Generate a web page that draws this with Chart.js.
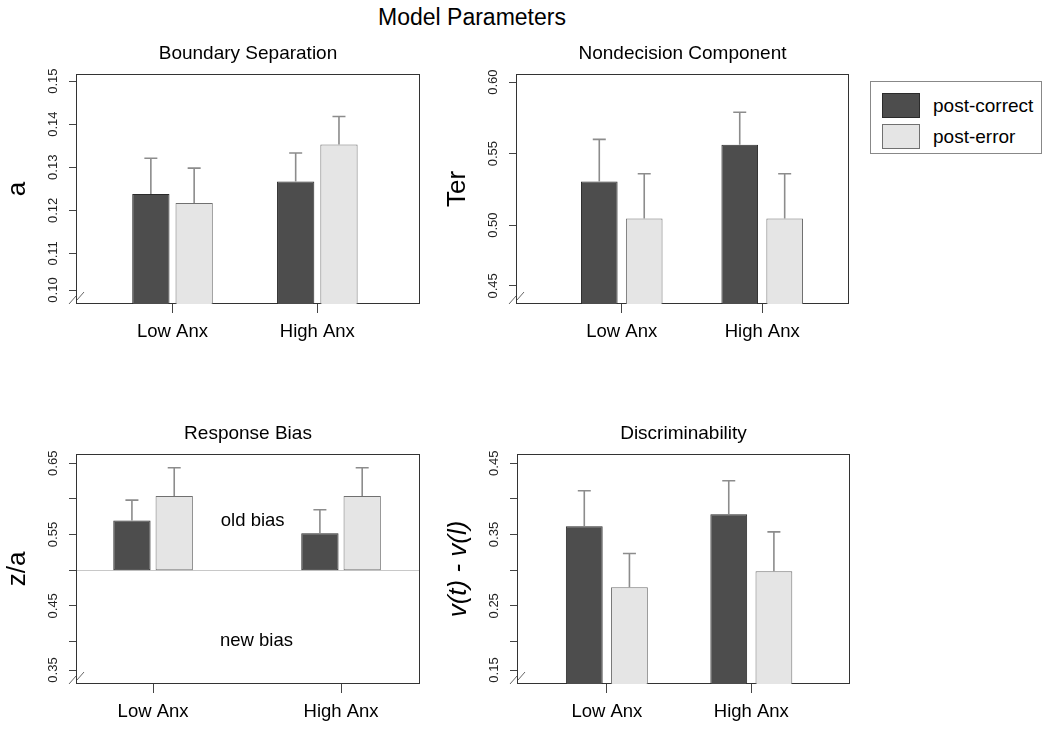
<!DOCTYPE html>
<html>
<head>
<meta charset="utf-8">
<script src="https://cdn.jsdelivr.net/npm/chart.js@4.4.0/dist/chart.umd.min.js"></script>
<style>
  body { margin: 0; background: #fff; width: 1050px; height: 743px; position: relative; overflow: hidden;
         font-family: 'Liberation Sans', Arial, sans-serif; color: #000; }
  canvas { position: absolute; }
  #mainTitle { position: absolute; left: 0; top: 4px; width: 944px; text-align: center; font-size: 23px; line-height: 26px; }
  #legend { position: absolute; left: 870px; top: 81px; width: 170px; height: 71px; border: 1px solid #888; }
  .row { position: absolute; left: 11px; height: 25px; }
  .swatch { position: absolute; left: 0; top: 0; width: 36px; height: 23px; }
  .row span { position: absolute; left: 51px; top: 0; line-height: 25px; font-size: 19px; white-space: nowrap; }
</style>
</head>
<body>
<div id="mainTitle">Model Parameters</div>
<canvas id="sep" width="430" height="320" style="left:0px;top:36px"></canvas>
<canvas id="ter" width="420" height="320" style="left:440px;top:36px"></canvas>
<canvas id="bias" width="430" height="320" style="left:0px;top:416px"></canvas>
<canvas id="disc" width="419" height="320" style="left:441px;top:416px"></canvas>
<div id="legend"></div>
<script>
// groups and series
const groups = ['Low Anx', 'High Anx'];
const seriesNames = ['post-correct', 'post-error'];
const barColors = ['#4d4d4d', '#e5e5e5'];
const borderColors = ['#2b2b2b', '#707070'];

// boundary separation (a)
const sepCorrect = [0.1238, 0.1267];
const sepError = [0.1217, 0.1353];
const sepCorrectTop = [0.1321, 0.1333];
const sepErrorTop = [0.1298, 0.1418];
const sepTicks = [0.1015, 0.11, 0.12, 0.13, 0.14, 0.15];
const sepTickLabels = ['0.10', '0.11', '0.12', '0.13', '0.14', '0.15'];

// nondecision component (Ter)
const terCorrect = [0.5305, 0.5563];
const terError = [0.5047, 0.5047];
const terCorrectTop = [0.560, 0.579];
const terErrorTop = [0.536, 0.536];
const terTicks = [0.4576, 0.50, 0.55, 0.60];
const terTickLabels = ['0.45', '0.50', '0.55', '0.60'];

// response bias (z/a), bars start at 0.5
const biasBase = 0.5;
const biasCorrect = [0.5697, 0.5518];
const biasError = [0.604, 0.604];
const biasCorrectTop = [0.5983, 0.5847];
const biasErrorTop = [0.6438, 0.6438];
const biasTicks = [0.3599, 0.40, 0.45, 0.50, 0.55, 0.60, 0.65];
const biasTickLabels = ['0.35', '', '0.45', '', '0.55', '', '0.65'];

// discriminability
const discCorrect = [0.3617, 0.3786];
const discError = [0.2759, 0.2986];
const discCorrectTop = [0.4114, 0.4254];
const discErrorTop = [0.3235, 0.3537];
const discTicks = [0.1599, 0.20, 0.25, 0.30, 0.35, 0.40, 0.45];
const discTickLabels = ['0.15', '', '0.25', '', '0.35', '', '0.45'];

Chart.defaults.font.family = "'Liberation Sans', Arial, sans-serif";
Chart.defaults.color = '#000';

function makePanel(id, p) {
  const toPoints = vals => vals.map((v, i) => ({ x: i + 1, y: p.base !== undefined ? [p.base, v] : v }));

  const frame = {
    id: 'frame',
    beforeDatasetsDraw(chart) {
      const { ctx, chartArea: a } = chart;
      const l = Math.round(a.left) + 0.5, t = Math.round(a.top) + 0.5;
      const r = Math.round(a.right) - 0.5, b = Math.round(a.bottom) - 0.5;
      ctx.save();
      if (p.base !== undefined) {
        const yb = Math.round(chart.scales.y.getPixelForValue(p.base)) + 0.5;
        ctx.strokeStyle = '#c8c8c8';
        ctx.lineWidth = 1;
        ctx.beginPath(); ctx.moveTo(l, yb); ctx.lineTo(r, yb); ctx.stroke();
      }
      ctx.strokeStyle = '#333';
      ctx.lineWidth = 1;
      ctx.strokeRect(l, t, r - l, b - t);
      ctx.restore();
    },
    afterDraw(chart) {
      // axis break marks
      const { ctx, chartArea: a } = chart;
      const L = Math.round(a.left), B = Math.round(a.bottom);
      ctx.save();
      ctx.strokeStyle = '#666';
      ctx.lineWidth = 1;
      ctx.beginPath();
      ctx.moveTo(L - 7, B); ctx.lineTo(L, B - 8);
      ctx.moveTo(L + 1, B - 4); ctx.lineTo(L + 8, B - 12);
      ctx.stroke();
      ctx.restore();
    }
  };

  const errorBars = {
    id: 'errorBars',
    afterDatasetsDraw(chart) {
      const { ctx } = chart;
      const y = chart.scales.y, x = chart.scales.x;
      ctx.save();
      ctx.strokeStyle = '#8c8c8c';
      ctx.lineWidth = 1.6;
      chart.data.datasets.forEach((ds, d) => {
        chart.getDatasetMeta(d).data.forEach((bar, i) => {
          const top = y.getPixelForValue(ds.errTop[i]);
          ctx.beginPath();
          ctx.moveTo(bar.x, bar.y);
          ctx.lineTo(bar.x, top);
          ctx.moveTo(bar.x - 6.5, top);
          ctx.lineTo(bar.x + 6.5, top);
          ctx.stroke();
        });
      });
      if (p.notes) {
        ctx.fillStyle = '#000';
        ctx.font = "18.5px 'Liberation Sans', Arial, sans-serif";
        ctx.textAlign = 'center';
        ctx.textBaseline = 'middle';
        p.notes.forEach(n => ctx.fillText(n.text, x.getPixelForValue(n.x), y.getPixelForValue(n.y)));
      }
      ctx.restore();
    }
  };

  return new Chart(document.getElementById(id), {
    type: 'bar',
    data: {
      datasets: [
        { label: seriesNames[0], data: toPoints(p.correct), errTop: p.correctTop,
          backgroundColor: barColors[0], borderColor: borderColors[0] },
        { label: seriesNames[1], data: toPoints(p.error), errTop: p.errorTop,
          backgroundColor: barColors[1], borderColor: borderColors[1] }
      ]
    },
    options: {
      responsive: false,
      animation: false,
      events: [],
      layout: { padding: { left: 0, right: p.padRight, top: 0, bottom: 0 } },
      datasets: {
        bar: { borderWidth: 1, borderSkipped: false, categoryPercentage: p.catPct, barPercentage: p.barPct }
      },
      plugins: {
        legend: { display: false },
        tooltip: { enabled: false },
        title: {
          display: true, text: p.title, fullSize: false, color: '#000',
          font: { size: 19, weight: 'normal', lineHeight: 1.2 },
          padding: { top: 6, bottom: 9.2 }
        }
      },
      scales: {
        x: {
          type: 'linear', min: p.xMin, max: p.xMax, offset: false, bounds: 'data',
          afterBuildTicks: s => { s.ticks = groups.map((g, i) => ({ value: i + 1 })); },
          afterFit: s => { s.height = 52; },
          grid: { drawOnChartArea: false, drawTicks: true, tickLength: 9, color: '#444', offset: false },
          border: { display: false },
          ticks: { autoSkip: false, maxRotation: 0, padding: 8.3, color: '#000', font: { size: 18.5 },
                   callback: (v, i) => groups[i] }
        },
        y: {
          type: 'linear', min: p.yMin, max: p.yMax, bounds: 'data',
          afterBuildTicks: s => { s.ticks = p.ticks.map(v => ({ value: v })); },
          afterFit: s => { s.width = 76; },
          grid: { drawOnChartArea: false, tickLength: 7, color: '#444' },
          border: { display: false },
          title: {
            display: true, text: p.yTitle, color: '#000',
            font: { size: 26, lineHeight: 1, style: p.italic ? 'italic' : 'normal' },
            padding: { top: 5, bottom: 0 }
          },
          ticks: { autoSkip: false, minRotation: 90, maxRotation: 90, crossAlign: 'center', padding: 3,
                   color: '#222', font: { size: 13 }, callback: (v, i) => p.tickLabels[i] }
        }
      }
    },
    plugins: [frame, errorBars]
  });
}

makePanel('sep', {
  title: 'Boundary Separation', yTitle: 'a',
  correct: sepCorrect, error: sepError, correctTop: sepCorrectTop, errorTop: sepErrorTop,
  ticks: sepTicks, tickLabels: sepTickLabels,
  yMin: 0.09825, yMax: 0.15165, xMin: 0.3336, xMax: 2.709,
  catPct: 0.598, barPct: 0.861, padRight: 10
});

makePanel('ter', {
  title: 'Nondecision Component', yTitle: 'Ter',
  correct: terCorrect, error: terError, correctTop: terCorrectTop, errorTop: terErrorTop,
  ticks: terTicks, tickLabels: terTickLabels,
  yMin: 0.4449, yMax: 0.6057, xMin: 0.247, xMax: 2.618,
  catPct: 0.64, barPct: 0.815, padRight: 11
});

makePanel('bias', {
  title: 'Response Bias', yTitle: 'z/a', base: biasBase,
  correct: biasCorrect, error: biasError, correctTop: biasCorrectTop, errorTop: biasErrorTop,
  ticks: biasTicks, tickLabels: biasTickLabels,
  yMin: 0.3403, yMax: 0.6630, xMin: 0.590, xMax: 2.420,
  catPct: 0.45, barPct: 0.882, padRight: 10,
  notes: [{ text: 'old bias', x: 1.53, y: 0.569 }, { text: 'new bias', x: 1.55, y: 0.401 }]
});

makePanel('disc', {
  title: 'Discriminability', yTitle: 'v(t) - v(l)', italic: true,
  correct: discCorrect, error: discError, correctTop: discCorrectTop, errorTop: discErrorTop,
  ticks: discTicks, tickLabels: discTickLabels,
  yMin: 0.1403, yMax: 0.4630, xMin: 0.378, xMax: 2.683,
  catPct: 0.625, barPct: 0.815, padRight: 10
});

// legend box
const legend = document.getElementById('legend');
seriesNames.forEach((name, i) => {
  const row = document.createElement('div');
  row.className = 'row';
  row.style.top = (11 + i * 31) + 'px';
  const sw = document.createElement('div');
  sw.className = 'swatch';
  sw.style.background = barColors[i];
  sw.style.border = '1px solid ' + borderColors[i];
  const label = document.createElement('span');
  label.textContent = name;
  row.appendChild(sw);
  row.appendChild(label);
  legend.appendChild(row);
});
</script>
</body>
</html>
